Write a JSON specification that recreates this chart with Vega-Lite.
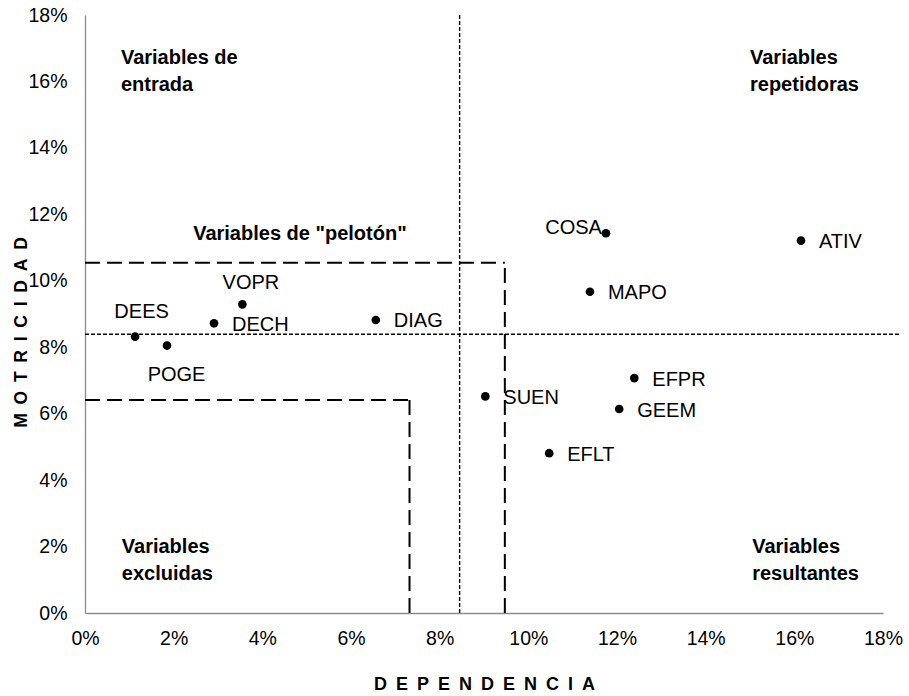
{
  "$schema": "https://vega.github.io/schema/vega-lite/v6.json",
  "width": 798,
  "height": 598,
  "autosize": {"type": "none"},
  "padding": {"left": 85, "top": 15, "right": 26, "bottom": 83},
  "background": "white",
  "config": {"view": {"stroke": null}, "font": "Liberation Sans"},
  "datasets": {
    "variables": [
      {"variable": "DEES", "dependencia": 0.0113, "motricidad": 0.0832},
      {"variable": "POGE", "dependencia": 0.0185, "motricidad": 0.0805},
      {"variable": "DECH", "dependencia": 0.0291, "motricidad": 0.0872},
      {"variable": "VOPR", "dependencia": 0.0355, "motricidad": 0.0929},
      {"variable": "DIAG", "dependencia": 0.0656, "motricidad": 0.0882},
      {"variable": "SUEN", "dependencia": 0.0903, "motricidad": 0.0652},
      {"variable": "EFLT", "dependencia": 0.1047, "motricidad": 0.0481},
      {"variable": "COSA", "dependencia": 0.1175, "motricidad": 0.1143},
      {"variable": "MAPO", "dependencia": 0.1139, "motricidad": 0.0967},
      {"variable": "GEEM", "dependencia": 0.1205, "motricidad": 0.0614},
      {"variable": "EFPR", "dependencia": 0.1239, "motricidad": 0.0707},
      {"variable": "ATIV", "dependencia": 0.1615, "motricidad": 0.1121}
    ],
    "divisores": [
      {"x1": 0.0845, "x2": 0.0845, "y1": 0, "y2": 0.18},
      {"x1": 0, "x2": 0.1838, "y1": 0.0839, "y2": 0.0839}
    ],
    "zonas": [
      {"x1": 0, "x2": 0.0947, "y1": 0.1054, "y2": 0.1054},
      {"x1": 0.0947, "x2": 0.0947, "y1": 0, "y2": 0.1054},
      {"x1": 0, "x2": 0.0732, "y1": 0.0641, "y2": 0.0641},
      {"x1": 0.0732, "x2": 0.0732, "y1": 0, "y2": 0.0641}
    ],
    "cuadrantes": [
      {"texto": "Variables de\nentrada", "x": 0.0081, "y": 0.17},
      {"texto": "Variables\nrepetidoras", "x": 0.15, "y": 0.17},
      {"texto": "Variables\nexcluidas", "x": 0.0083, "y": 0.0229},
      {"texto": "Variables\nresultantes", "x": 0.1505, "y": 0.0229},
      {"texto": "Variables de \"pelotón\"", "x": 0.0244, "y": 0.117}
    ]
  },
  "layer": [
    {
      "data": {"name": "variables"},
      "mark": {"type": "point", "filled": true, "shape": "circle", "size": 75, "color": "black", "opacity": 1},
      "encoding": {
        "x": {
          "field": "dependencia", "type": "quantitative",
          "title": "D\u2002E\u2002P\u2002E\u2002N\u2002D\u2002E\u2002N\u2002C\u2002I\u2002A",
          "scale": {"domain": [0, 0.18], "nice": false, "zero": true},
          "axis": {
            "title": "D\u2002E\u2002P\u2002E\u2002N\u2002D\u2002E\u2002N\u2002C\u2002I\u2002A",
            "values": [0, 0.02, 0.04, 0.06, 0.08, 0.1, 0.12, 0.14, 0.16, 0.18],
            "format": ".0%",
            "grid": false, "ticks": false, "tickSize": 0,
            "domainColor": "#8c8c8c", "domainWidth": 1.3,
            "labelFont": "Liberation Sans", "labelFontSize": 19.5, "labelColor": "#000",
            "labelPadding": 16, "labelFlush": false, "labelOverlap": false,
            "titleFont": "Liberation Sans", "titleFontSize": 18, "titleFontWeight": "bold", "titleColor": "#000",
            "titleY": 71, "titleBaseline": "middle"
          }
        },
        "y": {
          "field": "motricidad", "type": "quantitative",
          "title": "M\u2002O\u2002T\u2002R\u2002I\u2002C\u2002I\u2002D\u2002A\u2002D",
          "scale": {"domain": [0, 0.18], "nice": false, "zero": true},
          "axis": {
            "title": "M\u2002O\u2002T\u2002R\u2002I\u2002C\u2002I\u2002D\u2002A\u2002D",
            "values": [0, 0.02, 0.04, 0.06, 0.08, 0.1, 0.12, 0.14, 0.16, 0.18],
            "format": ".0%",
            "grid": false, "ticks": false, "tickSize": 0,
            "domainColor": "#8c8c8c", "domainWidth": 1.3,
            "labelFont": "Liberation Sans", "labelFontSize": 19.5, "labelColor": "#000",
            "labelPadding": 18, "labelFlush": false, "labelOverlap": false,
            "titleFont": "Liberation Sans", "titleFontSize": 17.5, "titleFontWeight": "bold", "titleColor": "#000",
            "titleAngle": 270, "titleX": -64, "titleY": 317, "titleBaseline": "middle", "titleAlign": "center"
          }
        }
      }
    },
    {
      "data": {"name": "divisores"},
      "mark": {"type": "rule", "color": "black", "strokeWidth": 1.4, "strokeDash": [4, 2]},
      "encoding": {
        "x": {"field": "x1", "type": "quantitative", "title": "D\u2002E\u2002P\u2002E\u2002N\u2002D\u2002E\u2002N\u2002C\u2002I\u2002A"},
        "x2": {"field": "x2"},
        "y": {"field": "y1", "type": "quantitative", "title": "M\u2002O\u2002T\u2002R\u2002I\u2002C\u2002I\u2002D\u2002A\u2002D"},
        "y2": {"field": "y2"}
      }
    },
    {
      "data": {"name": "zonas"},
      "mark": {"type": "rule", "color": "black", "strokeWidth": 2, "strokeDash": [15, 7]},
      "encoding": {
        "x": {"field": "x1", "type": "quantitative", "title": "D\u2002E\u2002P\u2002E\u2002N\u2002D\u2002E\u2002N\u2002C\u2002I\u2002A"},
        "x2": {"field": "x2"},
        "y": {"field": "y1", "type": "quantitative", "title": "M\u2002O\u2002T\u2002R\u2002I\u2002C\u2002I\u2002D\u2002A\u2002D"},
        "y2": {"field": "y2"}
      }
    },
    {
      "data": {"name": "variables"},
      "transform": [{"filter": {"field": "variable", "oneOf": ["DECH", "DIAG", "SUEN", "EFLT", "MAPO", "GEEM", "EFPR", "ATIV"]}}],
      "mark": {"type": "text", "align": "left", "baseline": "middle", "dx": 18, "dy": 1.5, "fontSize": 20, "color": "black", "font": "Liberation Sans"},
      "encoding": {
        "x": {"field": "dependencia", "type": "quantitative", "title": "D\u2002E\u2002P\u2002E\u2002N\u2002D\u2002E\u2002N\u2002C\u2002I\u2002A"},
        "y": {"field": "motricidad", "type": "quantitative", "title": "M\u2002O\u2002T\u2002R\u2002I\u2002C\u2002I\u2002D\u2002A\u2002D"},
        "text": {"field": "variable"}
      }
    },
    {
      "data": {"name": "variables"},
      "transform": [{"filter": {"field": "variable", "equal": "DEES"}}],
      "mark": {"type": "text", "align": "center", "baseline": "middle", "dx": 6.5, "dy": -25, "fontSize": 20, "color": "black", "font": "Liberation Sans"},
      "encoding": {
        "x": {"field": "dependencia", "type": "quantitative", "title": "D\u2002E\u2002P\u2002E\u2002N\u2002D\u2002E\u2002N\u2002C\u2002I\u2002A"},
        "y": {"field": "motricidad", "type": "quantitative", "title": "M\u2002O\u2002T\u2002R\u2002I\u2002C\u2002I\u2002D\u2002A\u2002D"},
        "text": {"field": "variable"}
      }
    },
    {
      "data": {"name": "variables"},
      "transform": [{"filter": {"field": "variable", "equal": "VOPR"}}],
      "mark": {"type": "text", "align": "center", "baseline": "middle", "dx": 8.5, "dy": -21, "fontSize": 20, "color": "black", "font": "Liberation Sans"},
      "encoding": {
        "x": {"field": "dependencia", "type": "quantitative", "title": "D\u2002E\u2002P\u2002E\u2002N\u2002D\u2002E\u2002N\u2002C\u2002I\u2002A"},
        "y": {"field": "motricidad", "type": "quantitative", "title": "M\u2002O\u2002T\u2002R\u2002I\u2002C\u2002I\u2002D\u2002A\u2002D"},
        "text": {"field": "variable"}
      }
    },
    {
      "data": {"name": "variables"},
      "transform": [{"filter": {"field": "variable", "equal": "POGE"}}],
      "mark": {"type": "text", "align": "center", "baseline": "middle", "dx": 9.5, "dy": 29.5, "fontSize": 20, "color": "black", "font": "Liberation Sans"},
      "encoding": {
        "x": {"field": "dependencia", "type": "quantitative", "title": "D\u2002E\u2002P\u2002E\u2002N\u2002D\u2002E\u2002N\u2002C\u2002I\u2002A"},
        "y": {"field": "motricidad", "type": "quantitative", "title": "M\u2002O\u2002T\u2002R\u2002I\u2002C\u2002I\u2002D\u2002A\u2002D"},
        "text": {"field": "variable"}
      }
    },
    {
      "data": {"name": "variables"},
      "transform": [{"filter": {"field": "variable", "equal": "COSA"}}],
      "mark": {"type": "text", "align": "right", "baseline": "middle", "dx": -4, "dy": -5.5, "fontSize": 20, "color": "black", "font": "Liberation Sans"},
      "encoding": {
        "x": {"field": "dependencia", "type": "quantitative", "title": "D\u2002E\u2002P\u2002E\u2002N\u2002D\u2002E\u2002N\u2002C\u2002I\u2002A"},
        "y": {"field": "motricidad", "type": "quantitative", "title": "M\u2002O\u2002T\u2002R\u2002I\u2002C\u2002I\u2002D\u2002A\u2002D"},
        "text": {"field": "variable"}
      }
    },
    {
      "data": {"name": "cuadrantes"},
      "mark": {"type": "text", "align": "left", "baseline": "top", "lineBreak": "\n", "lineHeight": 27, "fontSize": 20, "fontWeight": "bold", "color": "black", "font": "Liberation Sans"},
      "encoding": {
        "x": {"field": "x", "type": "quantitative", "title": "D\u2002E\u2002P\u2002E\u2002N\u2002D\u2002E\u2002N\u2002C\u2002I\u2002A"},
        "y": {"field": "y", "type": "quantitative", "title": "M\u2002O\u2002T\u2002R\u2002I\u2002C\u2002I\u2002D\u2002A\u2002D"},
        "text": {"field": "texto"}
      }
    }
  ]
}
